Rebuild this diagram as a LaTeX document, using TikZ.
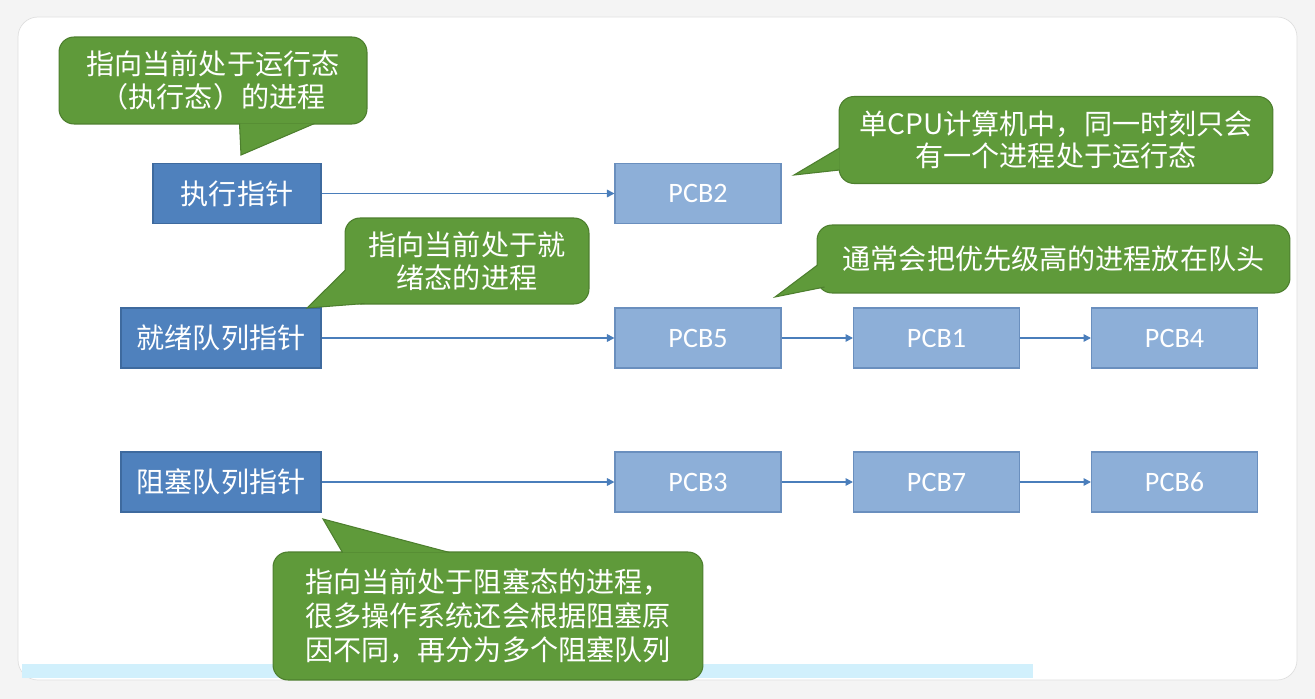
\documentclass[tikz,border=0pt]{standalone}
\usepackage{fontspec}
\setmainfont{Carlito}
\newfontfamily\cjk{Noto Sans CJK SC}
\usetikzlibrary{arrows.meta, positioning, calc}

\definecolor{ptrblue}{HTML}{4F81BD}
\definecolor{ptredge}{HTML}{3E6A9E}
\definecolor{pcbblue}{HTML}{8DAFD8}
\definecolor{pcbedge}{HTML}{6A8FBE}
\definecolor{notegreen}{HTML}{5F9A3A}
\definecolor{noteedge}{HTML}{4D7F2E}
\definecolor{linkblue}{HTML}{4A7EBB}

\begin{document}
\begin{tikzpicture}[
    x=0.02cm, y=-0.02cm,
    pointer/.style={
        rectangle, draw=ptredge, line width=0.6pt, fill=ptrblue,
        minimum height=1.2cm, inner sep=0pt,
        text=white, font=\cjk\fontsize{16}{19}\selectfont
    },
    pcb/.style={
        rectangle, draw=pcbedge, line width=0.6pt, fill=pcbblue,
        minimum width=3.32cm, minimum height=1.2cm, inner sep=0pt,
        text=white, font=\fontsize{16}{19}\selectfont
    },
    note/.style={
        rectangle, rounded corners=0.3cm, draw=noteedge, line width=0.6pt,
        fill=notegreen, inner sep=0pt, align=center,
        text=white, font=\cjk\fontsize{16}{18.5}\selectfont
    },
    tail/.style={fill=notegreen, draw=noteedge, line width=0.6pt, line join=miter},
    link/.style={draw=linkblue, line width=0.9pt, -{Triangle[length=0.15cm, width=0.15cm]}}
]

% page and card
\useasboundingbox (0,0) rectangle (1315,699);
\fill[gray!9] (0,0) rectangle (1315,699);
\fill[white, draw=gray!25, rounded corners=0.4cm] (18,17) rectangle (1297,680);
\fill[cyan!18] (22,664) rectangle (1033,678);

% pointers
\node[pointer, minimum width=3.36cm] (ptrRun)   at (237, 193.5) {执行指针};
\node[pointer, minimum width=4cm]    (ptrReady) at (221, 338)   {就绪队列指针};
\node[pointer, minimum width=4cm]    (ptrBlock) at (221, 482)   {阻塞队列指针};

% process control blocks
\node[pcb] (pcb2) at (698,    193.5) {PCB2};
\node[pcb] (pcb5) at (698,    338)   {PCB5};
\node[pcb] (pcb1) at (936.5,  338)   {PCB1};
\node[pcb] (pcb4) at (1174.5, 338)   {PCB4};
\node[pcb] (pcb3) at (698,    482)   {PCB3};
\node[pcb] (pcb7) at (936.5,  482)   {PCB7};
\node[pcb] (pcb6) at (1174.5, 482)   {PCB6};

\draw[link] (ptrRun.east)   -- (pcb2.west);
\draw[link] (ptrReady.east) -- (pcb5.west);
\draw[link] (pcb5.east)     -- (pcb1.west);
\draw[link] (pcb1.east)     -- (pcb4.west);
\draw[link] (ptrBlock.east) -- (pcb3.west);
\draw[link] (pcb3.east)     -- (pcb7.west);
\draw[link] (pcb7.east)     -- (pcb6.west);

% notes
\node[note, minimum width=6.16cm, minimum height=1.74cm] (callRun)   at (213, 80.5)
    {指向当前处于运行态\\（执行态）的进程};
\node[note, minimum width=8.68cm, minimum height=1.74cm] (callCpu)   at (1056, 140)
    {单CPU计算机中，同一时刻只会\\有一个进程处于运行态};
\node[note, minimum width=4.88cm, minimum height=1.72cm] (callReady) at (467, 261)
    {指向当前处于就\\绪态的进程};
\node[note, minimum width=9.46cm, minimum height=1.36cm] (callPrio)  at (1053.5, 259)
    {通常会把优先级高的进程放在队头};
\node[note, minimum width=8.6cm, minimum height=2.56cm, align=left,
      font=\cjk\fontsize{16}{19.4}\selectfont] (callBlock) at (488, 616)
    {指向当前处于阻塞态的进程，\\很多操作系统还会根据阻塞原\\因不同，再分为多个阻塞队列};

% note tails
\coordinate (tipRun)   at (241, 155);
\coordinate (tipCpu)   at (794, 175);
\coordinate (tipReady) at (307, 308);
\coordinate (tipPrio)  at (775, 297);
\coordinate (tipBlock) at (323, 519);
\path[tail] ($(callRun.south west)+(181,-1)$) -- (tipRun) -- ($(callRun.south west)+(256,-1)$);
\path[tail] ($(callCpu.west)+(1,8)$) -- (tipCpu) -- ($(callCpu.west)+(1,30)$);
\path[tail] ($(callReady.west)+(1,9)$) -- (tipReady) -- ($(callReady.south west)+(20,-1)$);
\path[tail] ($(callPrio.west)+(1,6)$) -- (tipPrio) -- ($(callPrio.west)+(8,28)$);
\path[tail] ($(callBlock.north west)+(70,1)$) -- (tipBlock) -- ($(callBlock.north west)+(177,1)$);

\end{tikzpicture}
\end{document}
